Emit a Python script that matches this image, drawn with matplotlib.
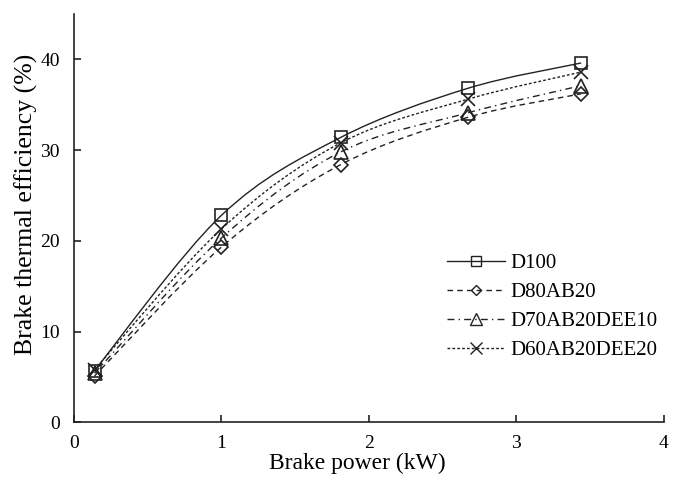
import numpy as np
import matplotlib
matplotlib.use("Agg")
import matplotlib.pyplot as plt
from matplotlib.path import Path
from matplotlib.patches import PathPatch
from matplotlib.lines import Line2D

plt.rcParams['font.family'] = ['Liberation Serif', 'DejaVu Serif']

power = [0.14, 1.0, 1.81, 2.67, 3.44]  # kW
series_names = ["D100", "D80AB20", "D70AB20DEE10", "D60AB20DEE20"]
bte_d100 = [5.7, 22.8, 31.4, 36.8, 39.6]
bte_d80 = [5.1, 19.3, 28.4, 33.6, 36.2]
bte_d70 = [5.4, 20.3, 29.8, 34.1, 37.1]
bte_d60 = [5.8, 21.3, 30.8, 35.6, 38.6]

styles = [
    dict(ls="-", marker="s", ms=9),
    dict(ls=(0, (4, 3)), marker="D", ms=7),
    dict(ls=(0, (5, 3, 1, 3)), marker="^", ms=10),
    dict(ls=(0, (2, 1.5)), marker="x", ms=10),
]


def smooth_path(x, y):
    # Excel-like smoothed line: Catmull-Rom converted to cubic Bezier
    x = np.asarray(x, float)
    y = np.asarray(y, float)
    px = np.concatenate([[x[0]], x, [x[-1]]])
    py = np.concatenate([[y[0]], y, [y[-1]]])
    verts = [(x[0], y[0])]
    codes = [Path.MOVETO]
    for i in range(1, len(px) - 2):
        c1 = (px[i] + (px[i + 1] - px[i - 1]) / 6, py[i] + (py[i + 1] - py[i - 1]) / 6)
        c2 = (px[i + 1] - (px[i + 2] - px[i]) / 6, py[i + 1] - (py[i + 2] - py[i]) / 6)
        verts += [c1, c2, (px[i + 1], py[i + 1])]
        codes += [Path.CURVE4] * 3
    return Path(verts, codes)


fig = plt.figure(figsize=(6.78, 4.82), dpi=100)
ax = fig.add_axes([0.109, 0.124, 0.870, 0.847])

handles = []
for name, vals, st in zip(series_names, [bte_d100, bte_d80, bte_d70, bte_d60], styles):
    patch = PathPatch(smooth_path(power, vals), facecolor="none", edgecolor="#222222",
                      lw=1.0, linestyle=st["ls"])
    ax.add_patch(patch)
    ax.plot(power, vals, ls="none", marker=st["marker"], ms=st["ms"],
            mfc="none", mec="#222222", mew=1.2)
    handles.append(Line2D([], [], color="#222222", lw=1.0, ls=st["ls"],
                          marker=st["marker"], ms=st["ms"] * 0.8, mfc="none",
                          mec="#222222", mew=1.0))

ax.set_xlim(0, 4)
ax.set_ylim(0, 45)
ax.set_xticks([0, 1, 2, 3, 4])
ax.set_yticks([0, 10, 20, 30, 40])
ax.spines["top"].set_visible(False)
ax.spines["right"].set_visible(False)
for s in ["left", "bottom"]:
    ax.spines[s].set_linewidth(1.2)
    ax.spines[s].set_color("#222222")
ax.tick_params(direction="in", length=5, width=1.2, labelsize=14, color="#222222")
ax.tick_params(axis="x", pad=9)
ax.tick_params(axis="y", pad=10)
ax.set_xlabel("Brake power (kW)", fontsize=17, labelpad=1)
ax.xaxis.label.set_x(0.48)
ax.set_ylabel("Brake thermal efficiency (%)", fontsize=18.5, labelpad=2)
ax.yaxis.label.set_y(0.534)

ax.legend(handles, series_names, loc="upper left", bbox_to_anchor=(0.632, 0.413),
          frameon=False, fontsize=15, handlelength=2.8, handletextpad=0.25,
          labelspacing=0.45, borderpad=0, borderaxespad=0)

fig.savefig("out.png", dpi=100)
